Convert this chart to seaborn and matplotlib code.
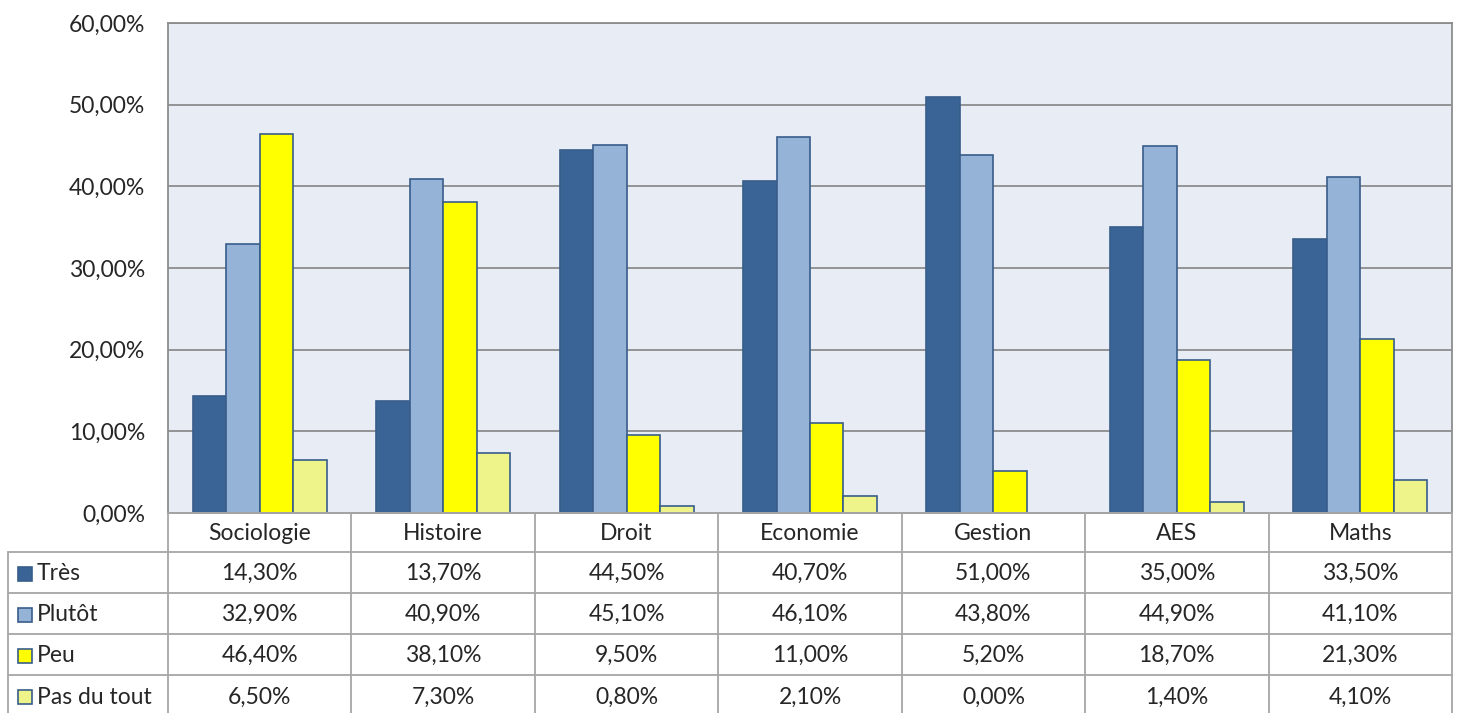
import matplotlib
matplotlib.use("Agg")
import matplotlib.pyplot as plt
import seaborn as sns
import pandas as pd
from matplotlib.patches import Rectangle
from matplotlib.lines import Line2D

categories = ["Sociologie", "Histoire", "Droit", "Economie", "Gestion", "AES", "Maths"]
series_names = ["Très", "Plutôt", "Peu", "Pas du tout"]
tres = [14.3, 13.7, 44.5, 40.7, 51.0, 35.0, 33.5]
plutot = [32.9, 40.9, 45.1, 46.1, 43.8, 44.9, 41.1]
peu = [46.4, 38.1, 9.5, 11.0, 5.2, 18.7, 21.3]
pas_du_tout = [6.5, 7.3, 0.8, 2.1, 0.0, 1.4, 4.1]
yticks = [0, 10, 20, 30, 40, 50, 60]

series_values = [tres, plutot, peu, pas_du_tout]
colors = ["#3A6496", "#95B3D7", "#FFFF00", "#EEF38A"]
edge = "#385D8A"
grid_c = "#8C8C8C"
table_c = "#A6A6A6"
FS = 16.5

rows = []
for name, vals in zip(series_names, series_values):
    for c, v in zip(categories, vals):
        rows.append({"cat": c, "serie": name, "val": v})
df = pd.DataFrame(rows)

sns.set_style("white")
plt.rcParams["font.family"] = ["Lato", "DejaVu Sans"]

W, H = 1458, 713
fig = plt.figure(figsize=(W / 100, H / 100), dpi=100)
x0, x1, y0, y1 = 168, 1452, 23, 513
ax = fig.add_axes([x0 / W, 1 - y1 / H, (x1 - x0) / W, (y1 - y0) / H])
ax.set_facecolor("#E8ECF4")

sns.barplot(data=df, x="cat", y="val", hue="serie", order=categories,
            hue_order=series_names, palette=colors, width=0.73, gap=0,
            edgecolor=edge, linewidth=1.2, ax=ax, legend=False, saturation=1)

ax.set_ylim(0, 60)
ax.set_xlim(-0.5, len(categories) - 0.5)
ax.set_yticks(yticks)
ax.set_yticklabels([f"{v:.2f}".replace(".", ",") + "%" for v in yticks], fontsize=FS)
ax.tick_params(axis="y", length=0, pad=16.5)
ax.set_xticks([])
ax.set_xlabel("")
ax.set_ylabel("")
ax.yaxis.grid(True, color=grid_c, linewidth=1.3)
ax.set_axisbelow(True)
for s in ax.spines.values():
    s.set_color(grid_c)
    s.set_linewidth(1.3)

def fx(px):
    return px / W

def fy(py):
    return 1 - py / H

ncat = len(categories)
cw = (x1 - x0) / ncat
row_edges = [513, 552, 593, 634, 675, 713]
lab_x0 = 8

def line(xa, xb, ya, yb):
    fig.add_artist(Line2D([fx(xa), fx(xb)], [fy(ya), fy(yb)], color=table_c, lw=1.3))

line(x0, x1, 513, 513)
for r in row_edges[1:-1]:
    line(lab_x0, x1, r, r)
line(lab_x0, lab_x0, 552, 713)
for k in range(ncat + 1):
    line(x0 + k * cw, x0 + k * cw, 513, 713)

for k, c in enumerate(categories):
    fig.text(fx(x0 + (k + 0.5) * cw), fy((row_edges[0] + row_edges[1]) / 2 + 1), c,
             ha="center", va="center", fontsize=FS)

for i, (name, vals) in enumerate(zip(series_names, series_values)):
    ya, yb = row_edges[i + 1], row_edges[i + 2]
    yc = (ya + 22) if i == 3 else (ya + yb) / 2 + 1
    fig.add_artist(Rectangle((fx(18), fy(yc + 7)), 14 / W, 14 / H, transform=fig.transFigure,
                             facecolor=colors[i], edgecolor=edge, lw=1.2))
    fig.text(fx(37), fy(yc), name, ha="left", va="center", fontsize=FS)
    for k, v in enumerate(vals):
        fig.text(fx(x0 + (k + 0.5) * cw), fy(yc), f"{v:.2f}".replace(".", ",") + "%",
                 ha="center", va="center", fontsize=FS)

fig.savefig("out.png", dpi=100, facecolor="white")
